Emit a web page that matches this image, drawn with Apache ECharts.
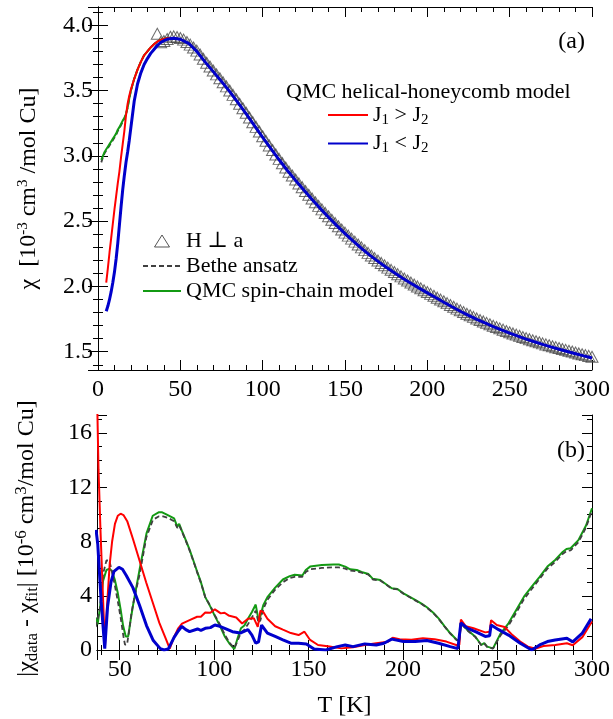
<!DOCTYPE html>
<html><head><meta charset="utf-8">
<script src="https://cdn.jsdelivr.net/npm/echarts@6/dist/echarts.min.js"></script>
<style>html,body{margin:0;padding:0;background:#fff}#c{width:613px;height:719px}</style>
</head><body><div id="c"></div>
<script>
// ---------- panel (a): susceptibility ----------
const tModel = [2,3,4,5,6,7,8,9,10,11,12,13,14,15,16,17,18,19,20,22,24,26,28,30,32,34,36,38,40,42,44,46,48,50,
  55,60,65,70,75,80,85,90,95,100,105,110,115,120,125,130,135,140,145,150,155,160,165,170,175,180,185,190,195,200,
  205,210,215,220,225,230,235,240,245,250,255,260,265,270,275,280,285,290,295,300];
const chiHigh = [3.862,3.800,3.720,3.645,3.570,3.492,3.408,3.322,3.232,3.142,3.055,2.970,2.888,2.812,2.738,2.665,2.596,2.530,2.466,2.405,
  2.347,2.292,2.240,2.192,2.147,2.104,2.063,2.024,1.987,1.951,1.915,1.879,1.844,1.810,1.778,1.748,1.720,1.693,1.667,1.642,
  1.619,1.597,1.576,1.556,1.537,1.519,1.502,1.485,1.468,1.452];
const chiRedLow = [null,null,null,2.03,2.14,2.26,2.37,2.48,2.59,2.69,2.79,2.88,2.99,3.09,3.19,3.31,3.40,3.46,3.51,
  3.59,3.66,3.72,3.77,3.80,3.83,3.855,3.875,3.888,3.896,3.90,3.902,3.90,3.897,3.892];
const chiBlueLow = [null,null,null,1.81,1.85,1.90,1.96,2.03,2.11,2.21,2.33,2.47,2.61,2.74,2.85,2.95,3.03,3.12,3.22,
  3.42,3.55,3.635,3.70,3.745,3.785,3.815,3.845,3.868,3.882,3.893,3.898,3.90,3.897,3.893];
const chiGreenLow = [2.97,3.00,3.03,3.05,3.07,3.09,3.11,3.13,3.15,3.17,3.20,3.22,3.245,3.27,3.29,3.32,3.37,3.44,3.50,
  3.59,3.66,3.72,3.77,3.80,3.83,3.855,3.875,3.888,3.896,3.90,3.902,3.90,3.897,3.892];
const chiBetheLow = [2.95,2.99,3.02,3.04,3.06,3.08,3.10,3.12,3.14,3.16,3.19,3.21,3.235,3.26,3.285,3.32,3.37,3.44,3.50,
  3.59,3.66,3.72,3.77,3.80,3.83,3.855,3.875,3.888,3.896,3.90,3.902,3.90,3.897,3.892];

const tData = [36,38,40,42,44,46,48,50,52,54,56,58,60,62,64,66,68,70,72,74,76,78,80,82,84,86,88,90,92,94,96,98,100,
  102,104,106,108,110,112,114,116,118,120,122,124,126,128,130,132,134,136,138,140,142,144,146,148,150,152,154,156,158,160,
  162,164,166,168,170,172,174,176,178,180,182,184,186,188,190,192,194,196,198,200,202,204,206,208,210,212,214,216,218,220,
  222,224,226,228,230,232,234,236,238,240,242,244,246,248,250,252,254,256,258,260,262,264,266,268,270,272,274,276,278,280,
  282,284,286,288,290,292,294,296,298,300];
const chiData = [3.935,3.870,3.880,3.895,3.912,3.915,3.910,3.902,3.890,3.872,3.852,3.830,3.806,3.776,3.744,3.713,3.684,3.654,3.624,3.594,
  3.563,3.532,3.500,3.467,3.433,3.399,3.365,3.330,3.294,3.258,3.222,3.186,3.150,3.115,3.080,3.045,3.011,2.977,2.944,2.911,
  2.879,2.849,2.819,2.789,2.760,2.731,2.702,2.673,2.645,2.617,2.590,2.563,2.537,2.511,2.486,2.461,2.436,2.412,2.389,2.366,
  2.343,2.321,2.299,2.278,2.257,2.237,2.217,2.198,2.180,2.162,2.144,2.127,2.110,2.094,2.077,2.061,2.045,2.030,2.015,2.000,
  1.986,1.971,1.957,1.943,1.928,1.914,1.900,1.886,1.872,1.858,1.844,1.830,1.817,1.804,1.791,1.779,1.767,1.755,1.743,1.732,
  1.721,1.710,1.699,1.689,1.679,1.669,1.659,1.649,1.640,1.631,1.622,1.613,1.604,1.596,1.588,1.580,1.572,1.564,1.556,1.549,
  1.542,1.535,1.528,1.521,1.514,1.507,1.501,1.494,1.487,1.481,1.474,1.468,1.461];

// ---------- panel (b): |chi_data - chi_fit| ----------
const diffRed = [[38.0,19.0],[38.8,13.3],[39.8,9.0],[41.0,4.5],[42.2,0.2],[43.2,3.0],[44.7,6.3],[46.0,8.0],[47.5,9.3],[49.0,9.9],
  [50.5,10.05],[52.0,9.95],[54.0,9.5],[57.0,8.2],[60.5,6.6],[64.0,5.0],[67.5,3.5],[71.0,2.0],[74.5,0.8],[76.5,0.1],[78.8,0.97],
  [81.0,1.6],[83.0,1.95],[87.0,2.2],[91.0,2.45],[93.0,2.45],[95.3,2.76],[98.0,2.75],[100.4,3.0],[103.5,2.7],[105.5,2.75],[107.6,2.55],
  [111.7,2.4],[114.8,1.95],[117.9,2.3],[121.0,2.35],[123.1,1.7],[124.5,2.9],[126.0,2.8],[128.2,2.3],[132.3,1.75],[136.4,1.5],
  [140.6,1.25],[144.7,1.1],[147.8,1.35],[150.8,0.74],[155.0,0.37],[161.1,0.25],[167.3,0.12],[173.5,0.2],[179.7,0.37],[185.8,0.5],
  [192.0,0.6],[194.5,0.9],[198.2,0.8],[204.4,0.75],[210.5,0.86],[216.7,0.8],[222.9,0.62],[228.5,0.35],[229.8,0.4],[230.6,2.25],
  [233.2,1.75],[237.3,1.6],[243.5,1.3],[245.8,1.35],[246.6,2.2],[249.6,1.85],[253.7,1.7],[257.9,1.1],[262.0,0.62],[266.1,0.25],
  [270.2,0.1],[274.3,0.3],[280.5,0.37],[286.7,0.5],[289.8,0.35],[294.9,0.95],[300.0,2.1]];
const diffBlue = [[37.5,8.85],[38.4,7.8],[40.2,3.6],[42.1,0.1],[43.6,3.2],[45.4,5.0],[47.0,5.8],[49.6,6.1],[51.5,5.95],[53.5,5.5],
  [57.0,4.6],[60.5,3.3],[64.2,1.8],[67.8,0.7],[71.5,0.1],[73.5,0.0],[75.7,0.07],[78.8,0.93],[81.0,1.4],[82.9,1.75],[85.0,1.5],
  [87.0,1.35],[91.2,1.55],[93.0,1.45],[95.3,1.6],[98.0,1.65],[100.4,1.84],[103.0,1.75],[105.6,1.6],[109.7,1.35],[113.8,1.25],
  [117.9,1.5],[120.0,1.1],[122.0,0.5],[123.5,0.6],[125.1,1.84],[128.2,1.25],[132.3,1.0],[136.4,0.75],[140.6,0.5],[144.7,0.5],
  [148.8,0.45],[152.9,0.07],[159.1,0.0],[165.2,0.25],[169.4,0.37],[173.5,0.25],[179.7,0.45],[185.8,0.37],[189.9,0.5],[194.0,0.8],
  [200.2,0.62],[206.4,0.62],[212.6,0.7],[218.8,0.5],[225.0,0.25],[229.0,0.1],[229.8,0.2],[230.6,2.0],[234.2,1.6],[238.3,1.35],
  [243.5,1.0],[245.8,1.05],[246.6,1.85],[250.6,1.5],[255.8,1.1],[262.0,0.5],[268.1,0.0],[272.3,0.37],[276.4,0.62],[280.5,0.74],
  [286.7,0.86],[289.8,0.6],[294.9,1.25],[299.5,2.3]];
const diffGreen = [[37.3,2.4],[38.3,1.9],[39.5,3.0],[41.2,5.1],[43.0,5.9],[44.7,6.0],[46.0,5.8],[47.4,5.2],[49.0,4.2],[50.5,3.0],
  [51.8,1.8],[53.2,1.0],[54.5,1.0],[55.8,2.2],[57.2,3.4],[60.5,5.9],[64.2,8.6],[67.5,9.9],[70.6,10.15],[72.5,10.15],[74.7,10.0],
  [78.8,9.7],[80.5,9.1],[81.5,9.3],[82.9,8.8],[85.0,8.1],[87.0,7.4],[89.0,6.6],[91.2,5.7],[93.0,5.0],[95.3,3.9],[98.0,3.2],
  [100.4,2.5],[103.0,1.8],[105.6,1.0],[108.0,0.5],[110.7,0.07],[112.5,0.9],[114.2,1.6],[116.0,1.8],[117.9,2.3],[120.0,2.8],
  [122.0,3.35],[123.5,2.2],[124.5,2.5],[126.0,3.3],[128.2,3.9],[132.3,4.6],[136.4,5.2],[140.0,5.45],[142.6,5.55],[146.7,5.5],
  [148.5,5.9],[150.8,6.15],[157.0,6.27],[163.2,6.3],[166.0,6.3],[169.4,6.15],[172.0,5.95],[175.5,5.9],[178.0,5.75],[181.7,5.6],
  [184.0,5.25],[187.9,5.16],[191.0,4.85],[194.0,4.55],[197.0,4.5],[200.2,4.18],[206.4,3.69],[210.0,3.4],[212.6,3.15],[216.0,2.75],
  [218.8,2.33],[222.0,1.75],[225.0,1.23],[228.5,0.74],[229.8,0.75],[230.6,2.0],[234.2,1.45],[238.3,0.98],[241.4,0.37],[243.0,0.5],
  [244.5,0.25],[247.6,0.12],[251.7,1.23],[255.8,1.97],[259.9,2.95],[264.0,3.93],[268.1,4.67],[272.3,5.4],[276.4,6.15],[280.5,6.64],
  [284.6,7.25],[286.5,7.45],[288.7,7.5],[292.8,8.1],[296.9,9.2],[300.0,10.45]];
const diffBethe = [[37.3,1.7],[38.3,1.6],[39.5,3.0],[41.2,5.6],[43.0,6.6],[44.5,6.6],[45.4,6.1],[47.4,4.8],[49.0,3.6],[50.5,2.4],
  [52.0,1.0],[52.8,0.4],[53.9,0.4],[55.0,1.4],[56.2,2.7],[58.0,4.0],[60.6,5.6],[64.1,8.3],[67.6,9.6],[70.6,9.85],[73.0,9.85],
  [75.5,9.75],[78.8,9.5],[80.5,9.0],[81.5,9.2],[82.9,8.75],[85.0,8.05],[87.0,7.35],[89.0,6.55],[91.2,5.65],[93.0,4.95],[95.3,3.9],
  [98.0,3.25],[100.4,2.55],[103.0,1.9],[105.6,1.15],[108.0,0.55],[110.7,0.15],[112.5,0.7],[114.2,1.3],[116.0,1.5],[117.9,1.9],
  [120.0,2.4],[122.0,2.9],[123.5,2.0],[124.5,2.2],[126.0,3.0],[128.2,3.7],[132.3,4.45],[136.4,5.0],[140.0,5.3],[142.6,5.4],
  [146.7,5.4],[148.5,5.75],[150.8,5.95],[157.0,6.05],[163.2,6.1],[166.0,6.1],[169.4,6.0],[172.0,5.85],[175.5,5.8],[178.0,5.7],
  [181.7,5.55],[184.0,5.2],[187.9,5.12],[191.0,4.82],[194.0,4.52],[197.0,4.47],[200.2,4.15],[206.4,3.66],[210.0,3.37],[212.6,3.12],
  [216.0,2.72],[218.8,2.3],[222.0,1.72],[225.0,1.2],[228.5,0.71],[229.8,0.72],[230.6,1.95],[234.2,1.42],[238.3,0.95],[241.4,0.35],
  [243.0,0.47],[244.5,0.22],[247.6,0.1],[251.7,1.1],[255.8,1.8],[259.9,2.75],[264.0,3.75],[268.1,4.5],[272.3,5.25],[276.4,6.0],
  [280.5,6.5],[284.6,7.1],[286.5,7.3],[288.7,7.35],[292.8,7.95],[296.9,9.05],[300.0,10.3]];

// tick labels
const xTicksTop = [0,50,100,150,200,250,300];
const yTicksTop = [1.5,2.0,2.5,3.0,3.5,4.0];
const xTicksBot = [50,100,150,200,250,300];
const yTicksBot = [0,4,8,12,16];

// ---------- build ----------
const FONT = '"Liberation Serif","DejaVu Serif",serif';
const chiRed = chiRedLow.concat(chiHigh);
const chiBlue = chiBlueLow.concat(chiHigh);
const chiGreen = chiGreenLow.concat(chiHigh);
const chiBethe = chiBetheLow.concat(chiHigh);
const pairs = (xs, ys) => xs.map((x, i) => [x, ys[i]]).filter(p => p[1] != null);
const fmt = (list, dec) => (v) => list.some(t => Math.abs(t - v) < 1e-6) ? (dec ? v.toFixed(dec) : String(v)) : '';

const RED = '#ff0000', BLUE = '#0000cc', GREEN = '#139a13', GRAY = '#404040';
const TICKFS = 24;
const lineAxis = {lineStyle: {color: '#000', width: 1}};
const tick = {inside: true, length: 10, lineStyle: {color: '#000', width: 1}};
const minor = (n) => ({show: true, splitNumber: n, length: 5, lineStyle: {color: '#000', width: 1}});
const lbl = (f, margin) => ({fontSize: TICKFS, fontFamily: FONT, color: '#000', margin: margin, formatter: f});

function xAx(grid, min, max, iv, f, pos, show, extra) {
  return Object.assign({type: 'value', gridIndex: grid, position: pos, min: min, max: max, minInterval: iv, maxInterval: iv,
    axisLine: lineAxis, axisTick: tick, minorTick: minor(5), splitLine: {show: false},
    axisLabel: show ? lbl(f, 8) : {show: false}}, extra || {});
}
function yAx(grid, min, max, iv, f, n, pos, show, extra) {
  return Object.assign({type: 'value', gridIndex: grid, position: pos, min: min, max: max, minInterval: iv, maxInterval: iv,
    axisLine: lineAxis, axisTick: tick, minorTick: minor(n), splitLine: {show: false},
    axisLabel: show ? lbl(f, 5) : {show: false}}, extra || {});
}
const nameStyle = (fs, sfs, pad) => ({fontSize: fs, fontFamily: FONT, color: '#000', padding: pad,
  rich: {sup: {fontSize: sfs, fontFamily: FONT, color: '#000', padding: [0, 0, 11, 0]},
         sub: {fontSize: sfs, fontFamily: FONT, color: '#000', padding: [11, 0, 0, 0]}}});
const plain = (fs) => ({fontSize: fs, fontWeight: 'normal', fontFamily: FONT, color: '#000'});

const line = (name, data, color, width, xi, yi, dash) => ({
  name: name, type: 'line', xAxisIndex: xi, yAxisIndex: yi, data: data, symbol: 'none', showSymbol: false,
  lineStyle: {color: color, width: width, type: dash || 'solid'}, itemStyle: {color: color}, clip: true, silent: true});
const hideSym = {opacity: 0};
const TRI_ICON = 'path://M0,0M38,14M11.5,13L19,1L26.5,13Z';

const option = {
  animation: false,
  backgroundColor: '#fff',
  grid: [
    {left: 98, top: 7, width: 495, height: 363},
    {left: 97, top: 415, width: 496, height: 235}
  ],
  xAxis: [
    xAx(0, 0, 300, 50, fmt(xTicksTop), 'bottom', true),
    xAx(0, 0, 300, 50, fmt(xTicksTop), 'top', false),
    xAx(1, 38, 300, 50, fmt(xTicksBot), 'bottom', true, {name: 'T [K]', nameLocation: 'middle', nameGap: 44,
      nameTextStyle: plain(24)}),
    xAx(1, 38, 300, 50, fmt(xTicksBot), 'top', false)
  ],
  yAxis: [
    yAx(0, 1.36, 4.14, 0.5, fmt(yTicksTop, 1), 5, 'left', true, {name: 'χ  [10{sup|-3} cm{sup|3} /mol Cu]', nameLocation: 'middle',
      nameGap: 56, nameTextStyle: nameStyle(24, 15, 0)}),
    yAx(0, 1.36, 4.14, 0.5, fmt(yTicksTop, 1), 5, 'right', false),
    yAx(1, 0, 17.33, 4, fmt(yTicksBot), 4, 'left', true, {name: '|χ{sub|data} - χ{sub|fit}| [10{sup|-6} cm{sup|3}/mol Cu]',
      nameLocation: 'middle', nameGap: 56, nameTextStyle: nameStyle(24, 17, [0, 12, 0, 0])}),
    yAx(1, 0, 17.33, 4, fmt(yTicksBot), 4, 'right', false)
  ],
  title: [
    {text: 'QMC helical-honeycomb model', left: 286, top: 81, padding: 0, textStyle: plain(22)},
    {text: '(a)', right: 28, top: 30, padding: 0, textStyle: plain(24)},
    {text: '(b)', right: 28, top: 439, padding: 0, textStyle: plain(24)}
  ],
  legend: [
    {data: [{name: 'J1 > J2', itemStyle: hideSym}, {name: 'J1 < J2', itemStyle: hideSym}],
      orient: 'vertical', left: 327, top: 104, padding: 0, itemGap: 5,
      itemWidth: 40, itemHeight: 14, selectedMode: false,
      formatter: (n) => n === 'J1 > J2' ? 'J{sub|1} > J{sub|2}' : 'J{sub|1} < J{sub|2}',
      textStyle: {fontSize: 22, fontFamily: FONT, color: '#000',
        rich: {sub: {fontSize: 15, fontFamily: FONT, color: '#000', padding: [10, 0, 0, 0]}}}},
    {data: [{name: 'H ⊥ a', icon: TRI_ICON, itemStyle: {color: 'rgba(255,255,255,0)', borderColor: '#2a2a2a', borderWidth: 1}},
            {name: 'Bethe ansatz', itemStyle: hideSym},
            {name: 'QMC spin-chain model', itemStyle: hideSym}],
      orient: 'vertical', left: 142, top: 230, padding: 0,
      itemGap: 3, itemWidth: 38, itemHeight: 14, selectedMode: false,
      textStyle: {fontSize: 22, fontFamily: FONT, color: '#000'}}
  ],
  series: [
    {name: 'H ⊥ a', type: 'scatter', xAxisIndex: 0, yAxisIndex: 0, data: pairs(tData, chiData), symbol: 'triangle',
      symbolSize: [12, 11], silent: true,
      itemStyle: {color: 'rgba(255,255,255,0)', borderColor: '#474747', borderWidth: 1}},
    line('Bethe ansatz', pairs(tModel, chiBethe), GRAY, 1.8, 0, 0, [5, 3]),
    line('QMC spin-chain model', pairs(tModel, chiGreen), GREEN, 2, 0, 0),
    line('J1 > J2', pairs(tModel, chiRed), RED, 2, 0, 0),
    line('J1 < J2', pairs(tModel, chiBlue), BLUE, 3, 0, 0),
    line('QMC spin-chain model', diffGreen, GREEN, 2, 2, 2),
    line('Bethe ansatz', diffBethe, GRAY, 1.8, 2, 2, [5, 3]),
    line('J1 > J2', diffRed, RED, 2, 2, 2),
    line('J1 < J2', diffBlue, BLUE, 3, 2, 2)
  ]
};
const chart = echarts.init(document.getElementById('c'), null, {renderer: 'canvas'});
chart.setOption(option);
</script></body></html>
